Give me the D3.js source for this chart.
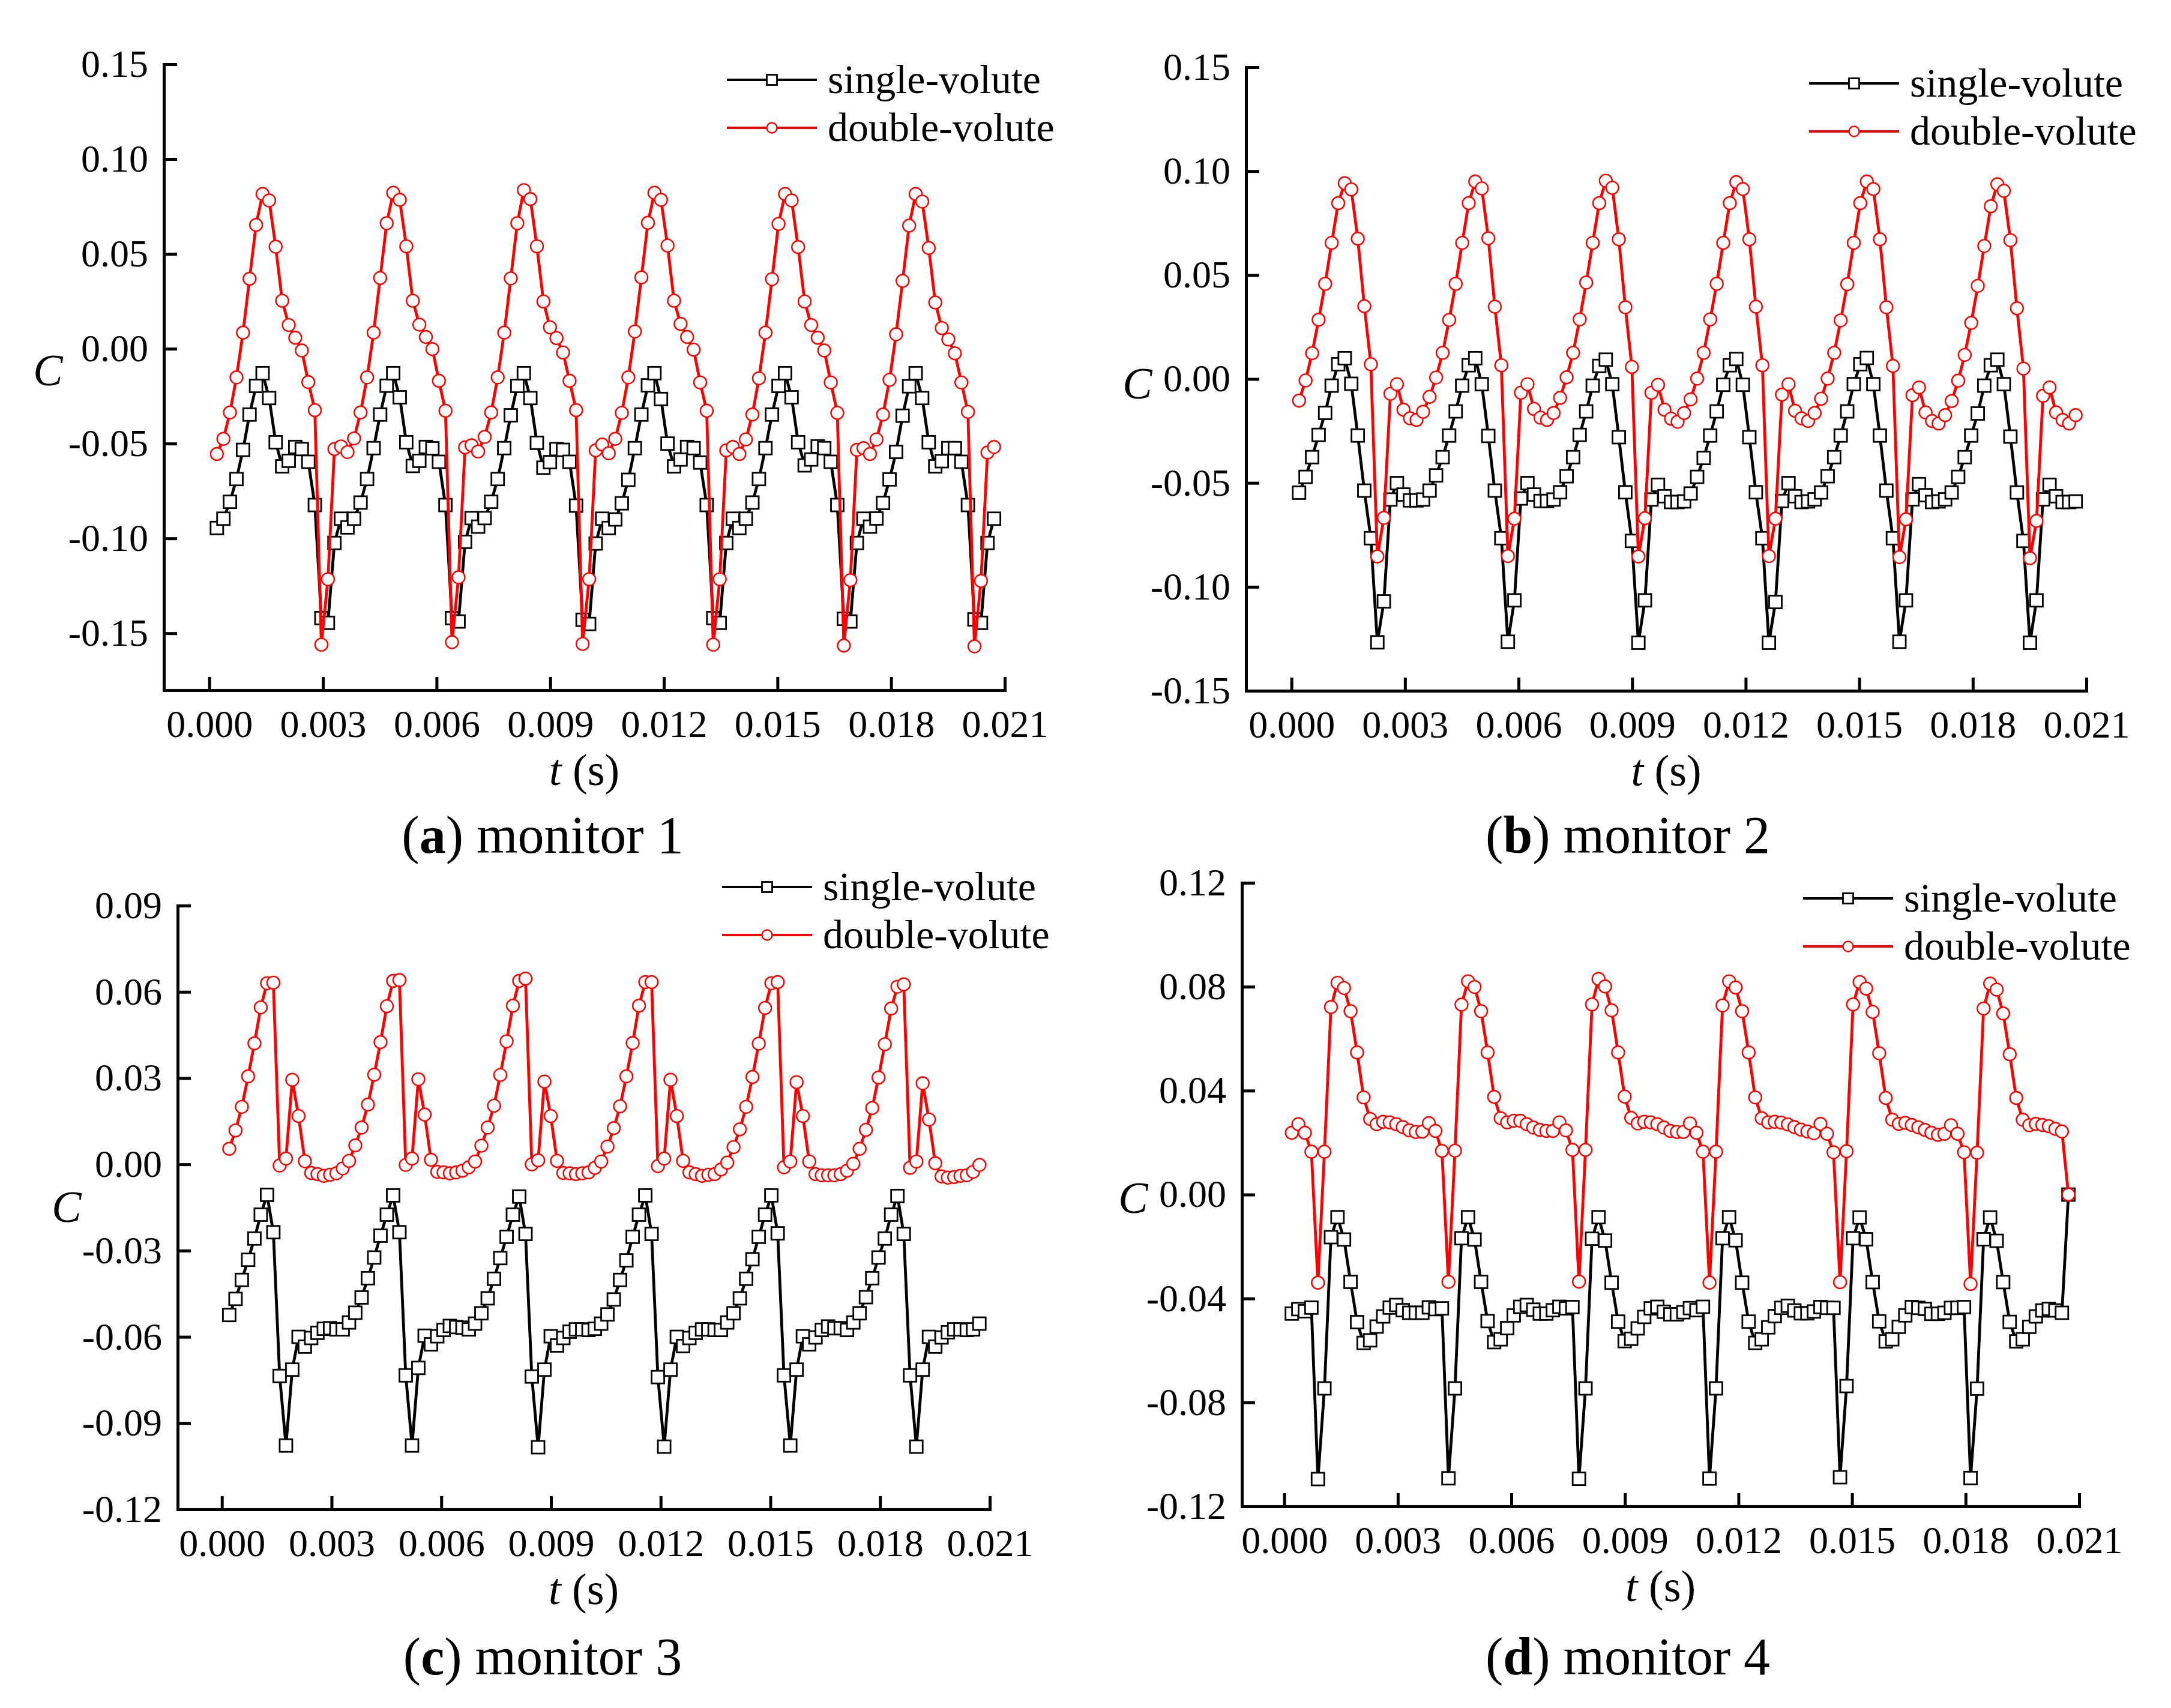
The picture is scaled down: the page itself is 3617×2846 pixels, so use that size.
<!DOCTYPE html>
<html>
<head>
<meta charset="utf-8">
<script src="https://cdn.jsdelivr.net/npm/d3@7"></script>
<style>
body { margin: 0; background: #fff; }
</style>
</head>
<body>
<svg id="fig"></svg>
<script>
// time grid: one sample every 3 deg of impeller rotation
var t0 = 0.0002, dt = 0.00017241;

var aSingle = [
	-0.0945, -0.0896, -0.0807, -0.0687, -0.0533, -0.0347, -0.0196, -0.0129, -0.0260, -0.0493, -0.0620, -0.0591, -0.0518, -0.0529, -0.0596, -0.0824, -0.1420, -0.1445, -0.1024, -0.0896,
	-0.0942, -0.0896, -0.0811, -0.0687, -0.0524, -0.0347, -0.0195, -0.0129, -0.0256, -0.0493, -0.0618, -0.0591, -0.0518, -0.0525, -0.0596, -0.0824, -0.1420, -0.1438, -0.1018, -0.0893,
	-0.0938, -0.0893, -0.0807, -0.0687, -0.0524, -0.0351, -0.0196, -0.0129, -0.0260, -0.0496, -0.0627, -0.0598, -0.0529, -0.0533, -0.0596, -0.0827, -0.1429, -0.1451, -0.1027, -0.0896,
	-0.0945, -0.0900, -0.0815, -0.0691, -0.0524, -0.0347, -0.0193, -0.0129, -0.0265, -0.0500, -0.0620, -0.0584, -0.0518, -0.0524, -0.0600, -0.0824, -0.1420, -0.1445, -0.1024, -0.0896,
	-0.0945, -0.0896, -0.0811, -0.0687, -0.0524, -0.0347, -0.0196, -0.0129, -0.0256, -0.0493, -0.0615, -0.0584, -0.0515, -0.0524, -0.0596, -0.0824, -0.1424, -0.1438, -0.1024, -0.0896,
	-0.0938, -0.0895, -0.0813, -0.0689, -0.0544, -0.0353, -0.0198, -0.0129, -0.0260, -0.0493, -0.0620, -0.0593, -0.0524, -0.0524, -0.0596, -0.0824, -0.1427, -0.1445, -0.1024, -0.0896
];
var aDouble = [
	-0.0555, -0.0475, -0.0336, -0.0151, 0.0085, 0.0369, 0.0653, 0.0816, 0.0782, 0.0538, 0.0253, 0.0125, 0.0058, -0.0009, -0.0176, -0.0324, -0.1560, -0.1215, -0.0529, -0.0515,
	-0.0545, -0.0473, -0.0336, -0.0151, 0.0085, 0.0373, 0.0662, 0.0822, 0.0785, 0.0540, 0.0253, 0.0127, 0.0062, -0.0002, -0.0169, -0.0327, -0.1547, -0.1205, -0.0520, -0.0509,
	-0.0542, -0.0465, -0.0336, -0.0151, 0.0085, 0.0371, 0.0662, 0.0836, 0.0789, 0.0540, 0.0249, 0.0113, 0.0056, -0.0020, -0.0169, -0.0324, -0.1556, -0.1215, -0.0536, -0.0505,
	-0.0551, -0.0475, -0.0338, -0.0151, 0.0091, 0.0376, 0.0664, 0.0822, 0.0785, 0.0544, 0.0253, 0.0131, 0.0062, -0.0005, -0.0178, -0.0327, -0.1560, -0.1215, -0.0536, -0.0518,
	-0.0555, -0.0478, -0.0347, -0.0156, 0.0085, 0.0367, 0.0658, 0.0816, 0.0782, 0.0536, 0.0249, 0.0125, 0.0058, -0.0009, -0.0178, -0.0338, -0.1565, -0.1220, -0.0533, -0.0524,
	-0.0555, -0.0478, -0.0347, -0.0164, 0.0076, 0.0358, 0.0649, 0.0816, 0.0776, 0.0531, 0.0244, 0.0109, 0.0049, -0.0024, -0.0178, -0.0333, -0.1569, -0.1224, -0.0547, -0.0518
];
var bSingle = [
	-0.0547, -0.0471, -0.0376, -0.0269, -0.0163, -0.0032, 0.0071, 0.0100, -0.0023, -0.0272, -0.0537, -0.0766, -0.1267, -0.1070, -0.0580, -0.0501, -0.0556, -0.0584, -0.0584, -0.0580,
	-0.0537, -0.0464, -0.0376, -0.0272, -0.0156, -0.0032, 0.0066, 0.0100, -0.0025, -0.0274, -0.0537, -0.0766, -0.1264, -0.1065, -0.0575, -0.0501, -0.0556, -0.0587, -0.0587, -0.0580,
	-0.0545, -0.0468, -0.0376, -0.0269, -0.0156, -0.0032, 0.0063, 0.0093, -0.0025, -0.0280, -0.0545, -0.0779, -0.1269, -0.1065, -0.0580, -0.0509, -0.0564, -0.0592, -0.0592, -0.0589,
	-0.0551, -0.0471, -0.0380, -0.0272, -0.0156, -0.0028, 0.0066, 0.0096, -0.0028, -0.0280, -0.0545, -0.0766, -0.1269, -0.1073, -0.0587, -0.0501, -0.0564, -0.0592, -0.0589, -0.0579,
	-0.0546, -0.0468, -0.0376, -0.0272, -0.0156, -0.0025, 0.0071, 0.0101, -0.0025, -0.0272, -0.0537, -0.0766, -0.1264, -0.1065, -0.0579, -0.0506, -0.0559, -0.0592, -0.0589, -0.0579,
	-0.0546, -0.0471, -0.0376, -0.0272, -0.0166, -0.0032, 0.0066, 0.0093, -0.0025, -0.0277, -0.0546, -0.0779, -0.1269, -0.1065, -0.0579, -0.0509, -0.0564, -0.0592, -0.0592, -0.0589
];
var bDouble = [
	-0.0104, -0.0007, 0.0124, 0.0285, 0.0458, 0.0655, 0.0846, 0.0942, 0.0912, 0.0675, 0.0350, 0.0071, -0.0854, -0.0668, -0.0071, -0.0025, -0.0148, -0.0189, -0.0197, -0.0158,
	-0.0086, 0.0007, 0.0126, 0.0284, 0.0458, 0.0655, 0.0846, 0.0950, 0.0917, 0.0677, 0.0348, 0.0066, -0.0852, -0.0672, -0.0066, -0.0025, -0.0144, -0.0186, -0.0197, -0.0164,
	-0.0091, 0.0008, 0.0126, 0.0287, 0.0464, 0.0655, 0.0846, 0.0954, 0.0920, 0.0672, 0.0345, 0.0058, -0.0854, -0.0670, -0.0066, -0.0028, -0.0148, -0.0191, -0.0206, -0.0164,
	-0.0098, 0.0002, 0.0126, 0.0287, 0.0458, 0.0655, 0.0846, 0.0947, 0.0914, 0.0672, 0.0348, 0.0066, -0.0852, -0.0672, -0.0075, -0.0025, -0.0153, -0.0189, -0.0202, -0.0164,
	-0.0095, 0.0002, 0.0126, 0.0282, 0.0456, 0.0655, 0.0846, 0.0950, 0.0914, 0.0672, 0.0345, 0.0063, -0.0857, -0.0675, -0.0078, -0.0041, -0.0161, -0.0202, -0.0214, -0.0174,
	-0.0106, -0.0008, 0.0116, 0.0270, 0.0448, 0.0640, 0.0831, 0.0937, 0.0905, 0.0668, 0.0340, 0.0050, -0.0862, -0.0683, -0.0081, -0.0041, -0.0161, -0.0197, -0.0214, -0.0174
];
var cSingle = [
	-0.0524, -0.0468, -0.0402, -0.0332, -0.0258, -0.0175, -0.0106, -0.0236, -0.0736, -0.0978, -0.0714, -0.0600, -0.0634, -0.0604, -0.0586, -0.0572, -0.0570, -0.0574, -0.0574, -0.0550,
	-0.0516, -0.0463, -0.0396, -0.0324, -0.0248, -0.0175, -0.0108, -0.0236, -0.0734, -0.0978, -0.0708, -0.0596, -0.0626, -0.0598, -0.0576, -0.0562, -0.0566, -0.0568, -0.0574, -0.0554,
	-0.0518, -0.0466, -0.0398, -0.0326, -0.0252, -0.0175, -0.0112, -0.0242, -0.0738, -0.0984, -0.0714, -0.0598, -0.0630, -0.0604, -0.0582, -0.0574, -0.0574, -0.0576, -0.0572, -0.0554,
	-0.0522, -0.0470, -0.0402, -0.0334, -0.0252, -0.0175, -0.0108, -0.0242, -0.0740, -0.0982, -0.0714, -0.0600, -0.0632, -0.0604, -0.0586, -0.0574, -0.0574, -0.0576, -0.0576, -0.0550,
	-0.0518, -0.0466, -0.0398, -0.0330, -0.0252, -0.0175, -0.0108, -0.0240, -0.0734, -0.0978, -0.0714, -0.0598, -0.0626, -0.0602, -0.0576, -0.0564, -0.0570, -0.0570, -0.0576, -0.0550,
	-0.0518, -0.0462, -0.0396, -0.0324, -0.0258, -0.0175, -0.0110, -0.0242, -0.0734, -0.0982, -0.0714, -0.0600, -0.0634, -0.0602, -0.0584, -0.0574, -0.0574, -0.0576, -0.0574, -0.0554
];
var cDouble = [
	0.0054, 0.0118, 0.0200, 0.0306, 0.0421, 0.0546, 0.0630, 0.0632, -0.0004, 0.0020, 0.0294, 0.0168, 0.0011, -0.0030, -0.0034, -0.0040, -0.0036, -0.0031, -0.0014, 0.0012,
	0.0066, 0.0128, 0.0208, 0.0312, 0.0425, 0.0550, 0.0638, 0.0641, -0.0002, 0.0020, 0.0296, 0.0173, 0.0016, -0.0026, -0.0028, -0.0031, -0.0028, -0.0022, -0.0010, 0.0010,
	0.0065, 0.0128, 0.0204, 0.0311, 0.0428, 0.0552, 0.0638, 0.0646, 0.0000, 0.0014, 0.0288, 0.0168, 0.0012, -0.0030, -0.0031, -0.0034, -0.0031, -0.0028, -0.0012, 0.0010,
	0.0062, 0.0126, 0.0202, 0.0306, 0.0422, 0.0552, 0.0634, 0.0634, -0.0006, 0.0020, 0.0294, 0.0168, 0.0012, -0.0028, -0.0034, -0.0040, -0.0036, -0.0034, -0.0018, 0.0006,
	0.0060, 0.0122, 0.0200, 0.0304, 0.0420, 0.0544, 0.0630, 0.0634, -0.0010, 0.0010, 0.0286, 0.0168, 0.0010, -0.0034, -0.0038, -0.0038, -0.0038, -0.0034, -0.0022, 0.0002,
	0.0054, 0.0120, 0.0196, 0.0302, 0.0418, 0.0542, 0.0618, 0.0626, -0.0012, 0.0010, 0.0282, 0.0156, 0.0004, -0.0042, -0.0046, -0.0044, -0.0040, -0.0038, -0.0026, -0.0002
];
var dSingle = [
	-0.0458, -0.0441, -0.0449, -0.0435, -0.1095, -0.0746, -0.0164, -0.0087, -0.0173, -0.0336, -0.0491, -0.0571, -0.0561, -0.0508, -0.0469, -0.0435, -0.0425, -0.0445, -0.0455, -0.0455,
	-0.0455, -0.0434, -0.0441, -0.0438, -0.1092, -0.0746, -0.0168, -0.0087, -0.0173, -0.0336, -0.0487, -0.0568, -0.0557, -0.0514, -0.0465, -0.0432, -0.0425, -0.0443, -0.0458, -0.0458,
	-0.0445, -0.0432, -0.0438, -0.0433, -0.1094, -0.0746, -0.0170, -0.0087, -0.0177, -0.0339, -0.0489, -0.0564, -0.0555, -0.0515, -0.0471, -0.0438, -0.0432, -0.0451, -0.0461, -0.0461,
	-0.0453, -0.0437, -0.0445, -0.0432, -0.1093, -0.0746, -0.0168, -0.0087, -0.0176, -0.0339, -0.0489, -0.0571, -0.0557, -0.0511, -0.0468, -0.0436, -0.0428, -0.0446, -0.0457, -0.0457,
	-0.0450, -0.0433, -0.0436, -0.0436, -0.1088, -0.0737, -0.0168, -0.0088, -0.0172, -0.0337, -0.0488, -0.0565, -0.0557, -0.0509, -0.0465, -0.0433, -0.0436, -0.0440, -0.0459, -0.0459,
	-0.0455, -0.0436, -0.0436, -0.0433, -0.1091, -0.0747, -0.0172, -0.0088, -0.0178, -0.0337, -0.0490, -0.0565, -0.0557, -0.0509, -0.0469, -0.0446, -0.0440, -0.0446, -0.0455, 0.0000
];
var dDouble = [
	0.0238, 0.0271, 0.0238, 0.0165, -0.0339, 0.0165, 0.0722, 0.0815, 0.0795, 0.0706, 0.0547, 0.0374, 0.0291, 0.0271, 0.0280, 0.0278, 0.0271, 0.0260, 0.0247, 0.0241,
	0.0242, 0.0275, 0.0245, 0.0168, -0.0336, 0.0169, 0.0731, 0.0821, 0.0799, 0.0706, 0.0547, 0.0376, 0.0294, 0.0278, 0.0284, 0.0284, 0.0271, 0.0258, 0.0249, 0.0245,
	0.0245, 0.0278, 0.0247, 0.0172, -0.0335, 0.0172, 0.0732, 0.0830, 0.0801, 0.0709, 0.0547, 0.0377, 0.0295, 0.0274, 0.0280, 0.0278, 0.0271, 0.0258, 0.0245, 0.0241,
	0.0241, 0.0274, 0.0238, 0.0165, -0.0339, 0.0165, 0.0728, 0.0821, 0.0797, 0.0706, 0.0547, 0.0374, 0.0294, 0.0278, 0.0280, 0.0277, 0.0270, 0.0260, 0.0250, 0.0243,
	0.0236, 0.0272, 0.0234, 0.0163, -0.0337, 0.0167, 0.0732, 0.0818, 0.0793, 0.0703, 0.0544, 0.0372, 0.0288, 0.0272, 0.0276, 0.0268, 0.0259, 0.0249, 0.0238, 0.0230,
	0.0234, 0.0267, 0.0234, 0.0163, -0.0344, 0.0161, 0.0716, 0.0812, 0.0789, 0.0697, 0.0540, 0.0372, 0.0288, 0.0267, 0.0272, 0.0268, 0.0263, 0.0253, 0.0243, 0.0000
];

var xTicks = [0, 0.003, 0.006, 0.009, 0.012, 0.015, 0.018, 0.021];
var yTicksAB = [-0.15, -0.10, -0.05, 0.00, 0.05, 0.10, 0.15];
var yTicksC = [-0.12, -0.09, -0.06, -0.03, 0.00, 0.03, 0.06, 0.09];
var yTicksD = [-0.12, -0.08, -0.04, 0.00, 0.04, 0.08, 0.12];
var seriesNames = ["single-volute", "double-volute"];
var panelLetters = ["a", "b", "c", "d"];
var panelNames = ["monitor 1", "monitor 2", "monitor 3", "monitor 4"];

var W = 3617, H = 2846;
var FONT = "'Liberation Serif', 'Times New Roman', serif";

var svg = d3.select("#fig")
	.attr("width", W)
	.attr("height", H)
	.style("background", "#fff");

var panels = [
	{single: aSingle, double: aDouble, yDom: [-0.18, 0.15], yTicks: yTicksAB,
		left: 273, right: 1674, top: 107, bottom: 1150, xMin: -0.0012,
		cX: 80, cY: 642, titleX: 904, titleY: 1421, legX: 1211, legY: 133},
	{single: bSingle, double: bDouble, yDom: [-0.15, 0.15], yTicks: yTicksAB,
		left: 2076, right: 3476, top: 112, bottom: 1151, xMin: -0.0012,
		cX: 1895, cY: 664, titleX: 2712, titleY: 1421, legX: 3014, legY: 139},
	{single: cSingle, double: cDouble, yDom: [-0.12, 0.09], yTicks: yTicksC,
		left: 296, right: 1649, top: 1509, bottom: 2515, xMin: -0.00121,
		cX: 111, cY: 2036, titleX: 904, titleY: 2790, legX: 1203, legY: 1478},
	{single: dSingle, double: dDouble, yDom: [-0.12, 0.12], yTicks: yTicksD,
		left: 2069, right: 3464, top: 1471, bottom: 2510, xMin: -0.00112,
		cX: 1888, cY: 2021, titleX: 2712, titleY: 2790, legX: 3004, legY: 1497}
];

var drawMarker = function(g, kind, x, y, s) {
	if (kind == 0) {
		g.append("rect")
			.attr("x", x - s / 2)
			.attr("y", y - s / 2)
			.attr("width", s)
			.attr("height", s)
			.attr("fill", "#fff")
			.attr("stroke", "#000")
			.attr("stroke-width", 2.8);
	} else {
		g.append("circle")
			.attr("cx", x)
			.attr("cy", y)
			.attr("r", s / 2)
			.attr("fill", "#fff")
			.attr("stroke", "#ff0000")
			.attr("stroke-width", 2.4);
	}
};

var drawPanel = function(p, idx) {
	var g = svg.append("g").attr("class", "panel-" + panelLetters[idx]);

	var x = d3.scaleLinear().domain([p.xMin, 0.021]).range([p.left, p.right]);
	var y = d3.scaleLinear().domain(p.yDom).range([p.bottom, p.top]);

	// axes, ticks pointing inward
	var yAxis = g.append("g")
		.attr("transform", "translate(" + p.left + ",0)")
		.call(d3.axisLeft(y)
			.tickValues(p.yTicks)
			.tickSize(-22)
			.tickSizeOuter(0)
			.tickPadding(26)
			.tickFormat(function(v) { return v.toFixed(2); }));

	var xAxis = g.append("g")
		.attr("transform", "translate(0," + p.bottom + ")")
		.call(d3.axisBottom(x)
			.tickValues(xTicks)
			.tickSize(-22)
			.tickSizeOuter(0)
			.tickPadding(33)
			.tickFormat(function(v) { return v.toFixed(3); }));

	[yAxis, xAxis].forEach(function(ax) {
		ax.attr("font-family", FONT).attr("font-size", 64);
		ax.selectAll("path").attr("stroke", "#000").attr("stroke-width", 5).attr("stroke-linecap", "square");
		ax.selectAll("line").attr("stroke", "#000").attr("stroke-width", 5);
		ax.selectAll("text").attr("fill", "#000");
	});

	// series
	var colors = ["#000000", "#ff0000"];
	[p.single, p.double].forEach(function(vals, k) {
		var pts = vals.map(function(v, i) { return [t0 + i * dt, v]; });
		var line = d3.line()
			.x(function(d) { return x(d[0]); })
			.y(function(d) { return y(d[1]); });
		var sg = g.append("g").attr("class", "series-" + k);
		sg.append("path")
			.attr("d", line(pts))
			.attr("fill", "none")
			.attr("stroke", colors[k])
			.attr("stroke-width", 4.8)
			.attr("stroke-linejoin", "round");
		pts.forEach(function(d) {
			drawMarker(sg, k, x(d[0]), y(d[1]), 21);
		});
	});

	// legend
	for (var k = 0; k < 2; k++) {
		var ly = p.legY + k * 80;
		g.append("line")
			.attr("x1", p.legX)
			.attr("x2", p.legX + 150)
			.attr("y1", ly)
			.attr("y2", ly)
			.attr("stroke", colors[k])
			.attr("stroke-width", 4);
		drawMarker(g, k, p.legX + 75, ly, 17);
		g.append("text")
			.attr("x", p.legX + 168)
			.attr("y", ly + 22)
			.attr("font-family", FONT)
			.attr("font-size", 68)
			.attr("fill", "#000")
			.text(seriesNames[k]);
	}

	// axis titles
	g.append("text")
		.attr("x", p.cX)
		.attr("y", p.cY)
		.attr("text-anchor", "middle")
		.attr("font-family", FONT)
		.attr("font-style", "italic")
		.attr("font-size", 74)
		.text("C");

	var xt = g.append("text")
		.attr("x", (p.left + p.right) / 2)
		.attr("y", p.bottom + 158)
		.attr("text-anchor", "middle")
		.attr("font-family", FONT)
		.attr("font-size", 74);
	xt.append("tspan").attr("font-style", "italic").text("t");
	xt.append("tspan").text(" (s)");

	var tt = g.append("text")
		.attr("x", p.titleX)
		.attr("y", p.titleY)
		.attr("text-anchor", "middle")
		.attr("font-family", FONT)
		.attr("font-size", 88);
	tt.append("tspan").text("(");
	tt.append("tspan").attr("font-weight", "bold").text(panelLetters[idx]);
	tt.append("tspan").text(") " + panelNames[idx]);
};

panels.forEach(drawPanel);
</script>
</body>
</html>
